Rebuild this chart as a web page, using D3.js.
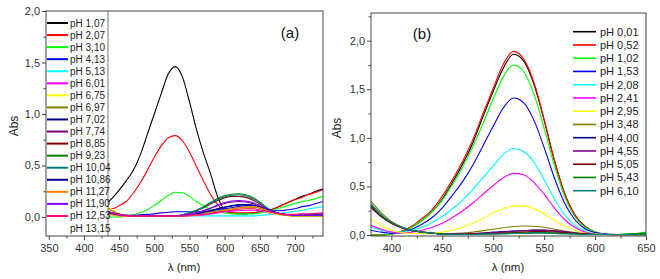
<!DOCTYPE html>
<html>
<head>
<meta charset="utf-8">
<script src="https://cdn.jsdelivr.net/npm/d3@7"></script>
<style>
  body { margin: 0; background: #fff; }
  svg { display: block; font-family: "Liberation Sans", Arial, sans-serif; }
</style>
</head>
<body>
<div id="chart"></div>
<script>
// ---- panel (a) data ----
const waveA = [430,440,450,460,470,480,490,500,510,520,530,540,550,560,570,580,590,600,610,620,630,640,650,660,670,680,690,700,710,720,730,740];
const labelsA = ["pH 1,07","pH 2,07","pH 3,10","pH 4,13","pH 5,13","pH 6,01","pH 6,75","pH 6,97","pH 7,02","pH 7,74","pH 8,85","pH 9,23","pH 10,04","pH 10,86","pH 11,27","pH 11,90","pH 12,53","pH 13,15"];
const colorsA = ["#000000","#ff0000","#00ff00","#0000ff","#00ffff","#ff00ff","#ffff00","#808000","#000080","#800080","#800000","#008000","#008080","#0000a0","#ff8000","#8000ff","#ff0080","#ffffff"];
const valuesA = [
  [0.12,0.18,0.26,0.35,0.45,0.60,0.80,1.00,1.20,1.39,1.46,1.36,1.12,0.85,0.62,0.42,0.20,0.07,0.04,0.03,0.03,0.04,0.05,0.06,0.08,0.11,0.14,0.17,0.20,0.22,0.25,0.27],
  [0.08,0.08,0.11,0.15,0.23,0.33,0.45,0.58,0.69,0.77,0.79,0.74,0.63,0.49,0.35,0.22,0.12,0.06,0.04,0.04,0.04,0.04,0.05,0.06,0.08,0.11,0.14,0.17,0.19,0.22,0.24,0.265],
  [0.00,0.00,0.00,0.01,0.02,0.04,0.07,0.11,0.16,0.21,0.24,0.235,0.20,0.15,0.11,0.07,0.05,0.04,0.03,0.03,0.03,0.03,0.04,0.05,0.07,0.09,0.11,0.13,0.15,0.16,0.18,0.20],
  [0.05,0.03,0.02,0.015,0.015,0.02,0.025,0.03,0.04,0.045,0.05,0.05,0.05,0.05,0.055,0.06,0.07,0.08,0.09,0.10,0.11,0.11,0.10,0.08,0.06,0.06,0.07,0.08,0.10,0.11,0.13,0.15],
  [0.04,0.03,0.02,0.015,0.01,0.01,0.01,0.01,0.01,0.01,0.01,0.01,0.01,0.01,0.01,0.01,0.01,0.01,0.01,0.01,0.01,0.01,0.015,0.02,0.025,0.035,0.045,0.055,0.065,0.08,0.09,0.10],
  [0.06,0.04,0.02,0.01,0.005,0.005,0.005,0.005,0.005,0.005,0.005,0.005,0.01,0.015,0.02,0.03,0.04,0.05,0.055,0.06,0.065,0.065,0.06,0.045,0.03,0.02,0.015,0.015,0.02,0.02,0.025,0.03],
  [0.12,0.07,0.03,0.01,0.005,0.005,0.005,0.005,0.005,0.005,0.005,0.01,0.015,0.02,0.03,0.04,0.05,0.06,0.07,0.075,0.08,0.08,0.07,0.05,0.03,0.02,0.01,0.01,0.01,0.01,0.01,0.01],
  [0.10,0.06,0.03,0.01,0.005,0.005,0.005,0.005,0.005,0.005,0.005,0.01,0.015,0.025,0.035,0.05,0.06,0.07,0.08,0.09,0.095,0.095,0.085,0.06,0.04,0.025,0.015,0.01,0.01,0.01,0.01,0.01],
  [0.06,0.04,0.025,0.015,0.01,0.01,0.01,0.01,0.01,0.01,0.01,0.01,0.02,0.03,0.045,0.06,0.08,0.095,0.11,0.12,0.12,0.115,0.10,0.075,0.05,0.03,0.02,0.015,0.015,0.015,0.015,0.015],
  [0.05,0.035,0.02,0.012,0.01,0.01,0.01,0.01,0.01,0.01,0.01,0.015,0.025,0.04,0.06,0.085,0.11,0.13,0.145,0.15,0.145,0.13,0.105,0.07,0.045,0.03,0.02,0.015,0.015,0.015,0.015,0.015],
  [0.04,0.03,0.02,0.01,0.01,0.01,0.01,0.01,0.01,0.01,0.01,0.02,0.035,0.06,0.09,0.125,0.16,0.185,0.20,0.20,0.19,0.165,0.125,0.08,0.045,0.03,0.02,0.015,0.015,0.015,0.015,0.02],
  [0.04,0.03,0.02,0.01,0.01,0.01,0.01,0.01,0.01,0.01,0.01,0.02,0.04,0.065,0.10,0.14,0.18,0.205,0.22,0.225,0.215,0.19,0.145,0.09,0.05,0.03,0.02,0.015,0.015,0.015,0.02,0.02],
  [0.04,0.03,0.02,0.01,0.01,0.01,0.01,0.01,0.01,0.01,0.01,0.02,0.04,0.065,0.095,0.135,0.17,0.195,0.21,0.215,0.205,0.18,0.14,0.09,0.05,0.03,0.02,0.015,0.015,0.015,0.015,0.015],
  [0.05,0.035,0.02,0.012,0.01,0.01,0.01,0.01,0.01,0.01,0.01,0.012,0.02,0.03,0.045,0.06,0.08,0.095,0.105,0.115,0.12,0.115,0.10,0.075,0.05,0.03,0.02,0.015,0.015,0.015,0.015,0.015],
  [0.03,0.02,0.01,0.005,0.005,0.005,0.005,0.005,0.005,0.005,0.005,0.008,0.012,0.02,0.03,0.04,0.05,0.065,0.08,0.09,0.10,0.10,0.09,0.065,0.04,0.025,0.015,0.01,0.01,0.01,0.01,0.01],
  [0.05,0.035,0.02,0.012,0.01,0.01,0.01,0.01,0.01,0.01,0.01,0.015,0.025,0.04,0.06,0.085,0.115,0.14,0.155,0.16,0.155,0.14,0.11,0.075,0.045,0.03,0.02,0.015,0.015,0.015,0.015,0.015],
  [0.06,0.04,0.025,0.015,0.01,0.01,0.01,0.01,0.01,0.01,0.01,0.012,0.015,0.02,0.025,0.035,0.045,0.055,0.065,0.075,0.08,0.08,0.07,0.055,0.04,0.03,0.025,0.025,0.03,0.03,0.035,0.04],
  [0.01,0.01,0.01,0.01,0.01,0.01,0.01,0.01,0.01,0.01,0.01,0.01,0.01,0.01,0.01,0.01,0.01,0.01,0.01,0.01,0.01,0.01,0.01,0.01,0.01,0.01,0.01,0.01,0.01,0.01,0.01,0.01]
];
const xTicksA = [350,400,450,500,550,600,650,700];
const yTicksA = [0,0.5,1,1.5,2];

// ---- panel (b) data ----
const waveB = [380,390,400,410,420,430,440,450,460,470,480,490,500,510,520,530,540,550,560,570,580,590,600,610,620,630,640,650];
const labelsB = ["pH 0,01","pH 0,52","pH 1,02","pH 1,53","pH 2,08","pH 2,41","pH 2,95","pH 3,48","pH 4,00","pH 4,55","pH 5,05","pH 5,43","pH 6,10"];
const colorsB = ["#000000","#ff0000","#00ff00","#0000ff","#00ffff","#ff00ff","#ffff00","#808000","#000080","#800080","#800000","#008000","#008080"];
const valuesB = [
  [0,0,0.01,0.03,0.08,0.15,0.24,0.37,0.54,0.73,0.95,1.22,1.48,1.72,1.86,1.79,1.55,1.18,0.77,0.43,0.21,0.09,0.03,0.01,0,0,0,0],
  [0,0,0.01,0.04,0.09,0.17,0.26,0.40,0.57,0.76,0.98,1.25,1.51,1.76,1.89,1.81,1.57,1.19,0.77,0.43,0.21,0.085,0.03,0.01,0,0,0,0],
  [0,0,0.01,0.03,0.08,0.15,0.24,0.36,0.52,0.70,0.91,1.15,1.40,1.63,1.75,1.68,1.45,1.10,0.72,0.40,0.19,0.08,0.03,0.01,0.005,0.01,0.015,0.03],
  [0.05,0.03,0.02,0.03,0.06,0.11,0.18,0.28,0.41,0.55,0.72,0.92,1.12,1.31,1.41,1.36,1.18,0.90,0.59,0.33,0.16,0.065,0.025,0.01,0.005,0,0,0],
  [0.08,0.05,0.03,0.03,0.05,0.08,0.13,0.19,0.27,0.36,0.47,0.59,0.71,0.83,0.89,0.86,0.75,0.57,0.37,0.21,0.10,0.04,0.015,0.005,0,0,0,0],
  [0.10,0.06,0.03,0.02,0.03,0.05,0.08,0.12,0.18,0.25,0.33,0.42,0.51,0.59,0.635,0.62,0.54,0.42,0.28,0.16,0.08,0.03,0.01,0.005,0,0,0,0],
  [0.16,0.10,0.05,0.025,0.015,0.015,0.02,0.03,0.05,0.08,0.12,0.17,0.23,0.27,0.30,0.30,0.27,0.22,0.15,0.09,0.05,0.02,0.01,0.005,0,0,0,0],
  [0.35,0.23,0.14,0.085,0.05,0.03,0.02,0.015,0.015,0.02,0.03,0.045,0.06,0.075,0.087,0.093,0.09,0.08,0.06,0.04,0.025,0.015,0.01,0.005,0.005,0.005,0.005,0.01],
  [0.30,0.20,0.13,0.08,0.05,0.03,0.02,0.01,0.01,0.01,0.015,0.02,0.03,0.035,0.04,0.045,0.05,0.048,0.04,0.03,0.02,0.01,0.005,0.005,0.005,0.005,0.005,0.005],
  [0.28,0.19,0.12,0.075,0.045,0.03,0.02,0.01,0.01,0.01,0.015,0.02,0.025,0.03,0.04,0.045,0.05,0.05,0.045,0.035,0.02,0.01,0.005,0.005,0.005,0.005,0.005,0.005],
  [0.29,0.19,0.12,0.075,0.045,0.03,0.02,0.01,0.005,0.005,0.01,0.01,0.015,0.02,0.025,0.03,0.035,0.035,0.03,0.025,0.015,0.01,0.005,0.005,0.005,0.005,0.005,0.005],
  [0.31,0.20,0.13,0.08,0.05,0.03,0.02,0.01,0.005,0.005,0.005,0.01,0.01,0.015,0.02,0.02,0.025,0.025,0.02,0.015,0.01,0.005,0.005,0.005,0.005,0.01,0.015,0.02],
  [0.32,0.21,0.13,0.08,0.05,0.03,0.02,0.01,0.005,0.005,0.005,0.01,0.01,0.01,0.015,0.015,0.02,0.02,0.015,0.01,0.01,0.005,0.005,0.005,0.005,0.005,0.005,0.005]
];
const xTicksB = [400,450,500,550,600,650];
const yTicksB = [0,0.5,1,1.5,2];

const W = 660, H = 279;
const svg = d3.select("#chart").append("svg")
    .attr("width", W)
    .attr("height", H);

const fmtY = d => d3.format(".1f")(d).replace(".", ",");

function panel(cfg) {
    const { id, box, xDomain, yDomain, waves, values, colors, xTicks, xMinor, yTicks, yMinor } = cfg;

    const x = d3.scaleLinear().domain(xDomain).range([box.left, box.right]);
    const y = d3.scaleLinear().domain(yDomain).range([box.bottom, box.top]);

    svg.append("clipPath").attr("id", "clip" + id)
      .append("rect")
        .attr("x", box.left).attr("y", box.top)
        .attr("width", box.right - box.left).attr("height", box.bottom - box.top);

    const line = d3.line()
        .x((d, i) => x(waves[i]))
        .y(d => y(d))
        .curve(d3.curveMonotoneX);

    // white series drawn first so it stays hidden
    const order = d3.range(values.length).sort((a, b) => (colors[b] === "#ffffff") - (colors[a] === "#ffffff"));
    svg.append("g").attr("clip-path", `url(#clip${id})`)
      .selectAll("path")
      .data(order)
      .enter()
      .append("path")
        .attr("d", i => line(values[i]))
        .attr("fill", "none")
        .attr("stroke", i => colors[i])
        .attr("stroke-width", 1.1);

    // axes
    const axisStyle = g => {
        g.select(".domain").remove();
        g.selectAll("line").attr("stroke", "#444");
        g.selectAll("text").attr("fill", "#333").style("font-size", "11px").style("font-family", "Liberation Sans, Arial, sans-serif");
    };

    svg.append("g")
        .attr("transform", `translate(0,${box.bottom})`)
        .call(d3.axisBottom(x).tickValues(xTicks).tickSize(4).tickPadding(4).tickFormat(d3.format("d")))
        .call(axisStyle);
    svg.append("g")
        .attr("transform", `translate(0,${box.bottom})`)
        .call(d3.axisBottom(x).tickValues(xMinor).tickSize(2.5).tickFormat(""))
        .call(axisStyle);

    svg.append("g")
        .attr("transform", `translate(${box.left},0)`)
        .call(d3.axisLeft(y).tickValues(yTicks).tickSize(4).tickPadding(2).tickFormat(fmtY))
        .call(axisStyle);
    svg.append("g")
        .attr("transform", `translate(${box.left},0)`)
        .call(d3.axisLeft(y).tickValues(yMinor).tickSize(2.5).tickFormat(""))
        .call(axisStyle);

    return { x, y };
}

// ---- panel (a) ----
const boxA = { left: 46, right: 323, top: 11, bottom: 236 };
panel({
    id: "a", box: boxA,
    xDomain: [346, 740], yDomain: [-0.185, 2.0],
    waves: waveA, values: valuesA, colors: colorsA,
    xTicks: xTicksA, xMinor: [375,425,475,525,575,625,675,725],
    yTicks: yTicksA, yMinor: [0.25,0.75,1.25,1.75]
});

// legend (a) sits in a white box over the left part
const legA = svg.append("g");
legA.append("rect")
    .attr("x", boxA.left).attr("y", boxA.top)
    .attr("width", 62).attr("height", boxA.bottom - boxA.top)
    .attr("fill", "#fff");
legA.append("line")
    .attr("x1", 108).attr("x2", 108).attr("y1", boxA.top).attr("y2", boxA.bottom)
    .attr("stroke", "#777").attr("stroke-width", 1);
labelsA.forEach((lab, i) => {
    const cy = 23 + i * 12.06;
    legA.append("line")
        .attr("x1", 47).attr("x2", 68).attr("y1", cy).attr("y2", cy)
        .attr("stroke", colorsA[i]).attr("stroke-width", 2);
    legA.append("text")
        .attr("x", 70).attr("y", cy)
        .attr("dy", "0.35em")
        .attr("fill", "#222")
        .style("font-size", "10px")
        .text(lab);
});

svg.append("rect")
    .attr("x", boxA.left).attr("y", boxA.top)
    .attr("width", boxA.right - boxA.left).attr("height", boxA.bottom - boxA.top)
    .attr("fill", "none").attr("stroke", "#444").attr("stroke-width", 1);

svg.append("text").attr("x", 290).attr("y", 38)
    .attr("text-anchor", "middle").style("font-size", "15px").attr("fill", "#111").text("(a)");
svg.append("text").attr("transform", "translate(18,126) rotate(-90)")
    .attr("text-anchor", "middle").style("font-size", "12px").attr("fill", "#222").text("Abs");
svg.append("text").attr("x", 184).attr("y", 271)
    .attr("text-anchor", "middle").style("font-size", "11.5px").attr("fill", "#222").text("λ (nm)");

// ---- panel (b) ----
const boxB = { left: 371, right: 646, top: 13, bottom: 236 };
panel({
    id: "b", box: boxB,
    xDomain: [380, 650], yDomain: [-0.01, 2.285],
    waves: waveB, values: valuesB, colors: colorsB,
    xTicks: xTicksB, xMinor: [425,475,525,575,625],
    yTicks: yTicksB, yMinor: [0.25,0.75,1.25,1.75,2.25]
});

svg.append("rect")
    .attr("x", boxB.left).attr("y", boxB.top)
    .attr("width", boxB.right - boxB.left).attr("height", boxB.bottom - boxB.top)
    .attr("fill", "none").attr("stroke", "#444").attr("stroke-width", 1);

const legB = svg.append("g");
labelsB.forEach((lab, i) => {
    const cy = 31.7 + i * 13.25;
    legB.append("line")
        .attr("x1", 573).attr("x2", 596).attr("y1", cy).attr("y2", cy)
        .attr("stroke", colorsB[i]).attr("stroke-width", 1.6);
    legB.append("text")
        .attr("x", 600).attr("y", cy)
        .attr("dy", "0.35em")
        .attr("fill", "#222")
        .style("font-size", "11px")
        .text(lab);
});

svg.append("text").attr("x", 422).attr("y", 39)
    .attr("text-anchor", "middle").style("font-size", "15px").attr("fill", "#111").text("(b)");
svg.append("text").attr("transform", "translate(341,128) rotate(-90)")
    .attr("text-anchor", "middle").style("font-size", "12px").attr("fill", "#222").text("Abs");
svg.append("text").attr("x", 508).attr("y", 271)
    .attr("text-anchor", "middle").style("font-size", "11.5px").attr("fill", "#222").text("λ (nm)");
</script>
</body>
</html>
